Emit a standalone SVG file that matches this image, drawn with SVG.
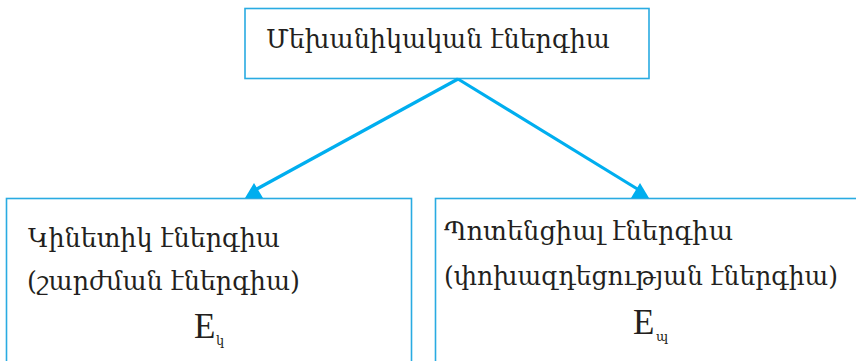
<svg xmlns="http://www.w3.org/2000/svg" width="856" height="361" viewBox="0 0 856 361">
  <style>
    .box { fill: #ffffff; stroke: #29abe2; stroke-width: 1.6; }
    .link { fill: none; stroke: #00aeef; stroke-width: 3.2; }
    .head { fill: #00aeef; }
    .t { font-family: "DejaVu Serif", "Liberation Serif", serif; fill: #231f20; }
    .arm { font-size: 26px; }
    .sym { font-family: "Liberation Serif", serif; font-size: 35px; fill: #231f20; }
    .sub { font-family: "DejaVu Serif", serif; font-size: 13px; fill: #231f20; }
  </style>
  <rect width="856" height="361" fill="#ffffff"/>

  <!-- top node: mechanical energy -->
  <g id="mechanical">
    <rect class="box" x="245" y="8.5" width="404" height="70"/>
    <text class="t arm" x="266" y="48" textLength="344" lengthAdjust="spacingAndGlyphs">Մեխանիկական էներգիա</text>
  </g>

  <!-- kinetic energy -->
  <g id="kinetic">
    <rect class="box" x="6.5" y="198.5" width="405" height="180"/>
    <text class="t arm" x="28" y="247" textLength="252" lengthAdjust="spacingAndGlyphs">Կինետիկ էներգիա</text>
    <text class="t arm" x="27" y="290" textLength="273" lengthAdjust="spacingAndGlyphs">(շարժման էներգիա)</text>
    <text class="sym" x="194" y="338">E</text>
    <text class="sub" x="216" y="345">կ</text>
  </g>

  <!-- potential energy -->
  <g id="potential">
    <rect class="box" x="435.5" y="198.5" width="440" height="180"/>
    <text class="t arm" x="444" y="240" textLength="289" lengthAdjust="spacingAndGlyphs">Պոտենցիալ էներգիա</text>
    <text class="t arm" x="444" y="285" textLength="394" lengthAdjust="spacingAndGlyphs">(փոխազդեցության էներգիա)</text>
    <text class="sym" x="633" y="334">E</text>
    <text class="sub" x="656" y="341">պ</text>
  </g>

  <!-- connectors -->
  <g id="connectors">
    <line class="link" x1="458" y1="79" x2="255" y2="190"/>
    <line class="link" x1="458" y1="79" x2="639" y2="190"/>
    <polygon class="head" points="254,183 245,198 263,198"/>
    <polygon class="head" points="640,183 631,198 649,198"/>
  </g>
</svg>
